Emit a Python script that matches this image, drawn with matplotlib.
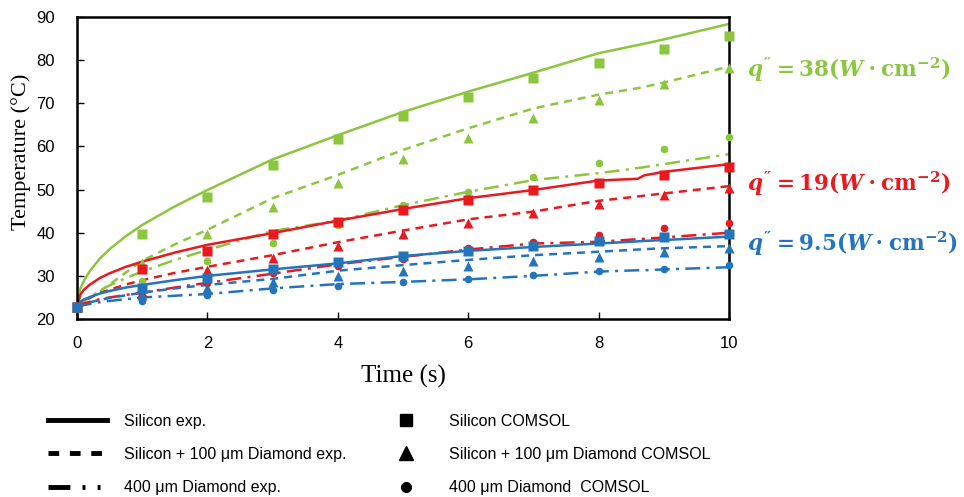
import matplotlib
matplotlib.use("Agg")
import matplotlib.pyplot as plt
from matplotlib.lines import Line2D

plt.rcParams['font.family'] = ['Liberation Sans Narrow', 'Liberation Sans', 'DejaVu Sans']
plt.rcParams['mathtext.fontset'] = 'custom'
plt.rcParams['mathtext.rm'] = 'DejaVu Serif:bold'
plt.rcParams['mathtext.it'] = 'DejaVu Serif:bold:italic'
plt.rcParams['mathtext.bf'] = 'DejaVu Serif:bold'

GREEN = '#8cc63f'
RED = '#e8191f'
BLUE = '#2474bc'

# ---- experimental curves (time samples, s) ----
t_exp = [0, 0.05, 0.1, 0.2, 0.35, 0.5, 0.75, 1, 1.5, 2, 3, 4, 5, 6, 7, 8, 8.6, 8.7, 9, 10]

g_si = [22.7, 27.0, 28.7, 31.2, 34.0, 36.2, 39.2, 41.8, 46.1, 49.9, 57.0, 62.6, 68.0, 72.7, 77.1, 81.6, 83.5, 83.8, 84.8, 88.4]
g_sd = [22.7, 23.2, 23.8, 24.8, 26.4, 28.0, 30.8, 33.5, 37.3, 40.7, 48.0, 53.4, 59.2, 64.2, 68.8, 72.0, 73.5, 73.8, 74.8, 78.5]
g_dd = [22.7, 23.4, 24.0, 25.0, 26.6, 27.8, 29.5, 31.0, 33.7, 36.0, 40.4, 42.8, 46.4, 49.5, 52.2, 53.8, 55.0, 55.2, 55.9, 58.2]

r_si = [22.7, 25.6, 26.7, 28.0, 29.5, 30.6, 32.1, 33.3, 35.4, 37.2, 39.9, 42.8, 45.5, 48.0, 49.9, 52.1, 52.5, 53.3, 54.1, 55.9]
r_sd = [22.7, 23.8, 24.3, 25.0, 26.0, 26.8, 28.0, 29.0, 30.7, 32.1, 34.8, 37.8, 40.5, 43.1, 44.9, 47.4, 48.4, 48.6, 49.1, 50.8]
r_dd = [22.7, 23.3, 23.6, 24.0, 24.6, 25.0, 25.6, 26.1, 27.3, 28.4, 30.5, 32.7, 34.4, 36.1, 37.5, 37.9, 38.5, 38.6, 38.9, 40.0]

b_si = [22.7, 24.0, 24.5, 25.1, 25.9, 26.5, 27.3, 27.9, 29.0, 30.0, 31.5, 32.9, 34.6, 35.8, 36.7, 37.5, 38.0, 38.1, 38.3, 39.1]
b_sd = [22.7, 23.2, 23.5, 23.9, 24.4, 24.9, 25.5, 26.1, 27.1, 27.9, 29.3, 31.2, 32.5, 33.7, 34.8, 35.6, 36.1, 36.2, 36.4, 36.9]
b_dd = [22.7, 23.0, 23.2, 23.5, 23.9, 24.2, 24.6, 25.0, 25.4, 25.8, 27.1, 28.1, 28.6, 29.2, 30.0, 31.0, 31.3, 31.3, 31.5, 32.0]

# ---- COMSOL points ----
t_sim = [0, 1, 2, 3, 4, 5, 6, 7, 8, 9, 10]

g_sq = [22.7, 39.7, 48.2, 55.6, 61.7, 67.0, 71.4, 75.8, 79.3, 82.5, 85.6]
g_tri = [22.7, 33.0, 39.7, 45.9, 51.6, 57.0, 61.9, 66.5, 70.8, 74.5, 78.1]
g_cir = [22.7, 28.8, 33.5, 37.7, 41.8, 46.4, 49.5, 53.0, 56.2, 59.3, 62.3]

r_sq = [22.7, 31.5, 35.8, 39.7, 42.6, 45.3, 47.7, 49.9, 51.6, 53.4, 55.2]
r_tri = [22.7, 26.3, 31.4, 34.1, 37.0, 39.7, 42.3, 44.6, 46.7, 48.7, 50.3]
r_cir = [22.7, 25.3, 28.3, 30.6, 32.3, 33.9, 36.4, 37.9, 39.5, 41.0, 42.3]

b_sq = [22.7, 27.1, 29.4, 31.5, 33.2, 34.5, 35.8, 36.9, 38.1, 38.9, 39.8]
b_tri = [22.7, 25.6, 27.1, 28.6, 30.0, 31.1, 32.3, 33.4, 34.4, 35.6, 36.4]
b_cir = [22.7, 24.2, 25.6, 26.7, 27.7, 28.5, 29.2, 30.2, 31.2, 31.7, 32.5]

labels_flux = [r"$q^{\prime\prime} = 38(W\cdot \mathrm{cm}^{-2})$",
               r"$q^{\prime\prime} = 19(W\cdot \mathrm{cm}^{-2})$",
               r"$q^{\prime\prime} = 9.5(W\cdot \mathrm{cm}^{-2})$"]
label_y = [77.7, 51.3, 37.4]

fig = plt.figure(figsize=(9.64, 4.97), dpi=100)
ax = fig.add_axes([0.0799, 0.3581, 0.6763, 0.6077])

dash = (0, (3.2, 2.4))
dashdot = (0, (6, 2.5, 1.2, 2.5))
lw = 1.8

series = [
    (GREEN, g_si, g_sd, g_dd, g_sq, g_tri, g_cir),
    (RED, r_si, r_sd, r_dd, r_sq, r_tri, r_cir),
    (BLUE, b_si, b_sd, b_dd, b_sq, b_tri, b_cir),
]
for col, si, sd, dd, sq, tri, cir in series:
    ax.plot(t_exp, si, color=col, lw=lw, ls='-', zorder=2)
    ax.plot(t_exp, sd, color=col, lw=lw, ls=dash, zorder=2)
    ax.plot(t_exp, dd, color=col, lw=lw, ls=dashdot, zorder=2)
    ax.plot(t_sim, sq, 's', color=col, ms=7, mec='none', zorder=3, clip_on=False)
    ax.plot(t_sim, tri, '^', color=col, ms=7.5, mec='none', zorder=3, clip_on=False)
    ax.plot(t_sim, cir, 'o', color=col, ms=5.5, mec='none', zorder=3, clip_on=False)

for (col, *_), lab, ly in zip(series, labels_flux, label_y):
    ax.text(10.27, ly, lab, color=col, fontsize=15.5, va='center', ha='left', clip_on=False)

ax.set_xlim(0, 10)
ax.set_ylim(20, 90)
ax.set_xticks([0, 2, 4, 6, 8, 10])
ax.set_yticks([20, 30, 40, 50, 60, 70, 80, 90])
ax.tick_params(axis='both', direction='in', length=5, width=1, labelsize=12)
ax.tick_params(axis='x', pad=12)
ax.tick_params(axis='y', pad=16)
for s in ax.spines.values():
    s.set_linewidth(1.8)
ax.set_xlabel('Time (s)', family='Liberation Serif', fontsize=18, labelpad=10)
ax.set_ylabel('Temperature (°C)', family='Liberation Serif', fontsize=16)
ax.yaxis.set_label_coords(-0.07, 0.553)

# legends
line_handles = [
    Line2D([], [], color='black', lw=3.5, ls='-'),
    Line2D([], [], color='black', lw=3.5, ls=(0, (2.2, 2.2))),
    Line2D([], [], color='black', lw=3.5, ls=(0, (4.5, 2.5, 0.6, 2.5, 0.6, 2.5))),
]
line_labels = ['Silicon exp.', 'Silicon + 100 \u03bcm Diamond exp.', '400 \u03bcm Diamond exp.']
leg1 = fig.legend(line_handles, line_labels, loc='upper left', bbox_to_anchor=(0.041, 0.184),
                  frameon=False, handlelength=3.7, handletextpad=1.1, labelspacing=1.15,
                  fontsize=11.5, borderpad=0)
mk_handles = [
    Line2D([], [], color='black', marker='s', ls='none', ms=9),
    Line2D([], [], color='black', marker='^', ls='none', ms=10),
    Line2D([], [], color='black', marker='o', ls='none', ms=7),
]
mk_labels = ['Silicon COMSOL', 'Silicon + 100 \u03bcm Diamond COMSOL', '400 \u03bcm Diamond  COMSOL']
leg2 = fig.legend(mk_handles, mk_labels, loc='upper left', bbox_to_anchor=(0.4, 0.184),
                  frameon=False, handlelength=1.5, handletextpad=2.0, labelspacing=1.15,
                  fontsize=11.5, borderpad=0)

fig.savefig('out.png', dpi=100)
